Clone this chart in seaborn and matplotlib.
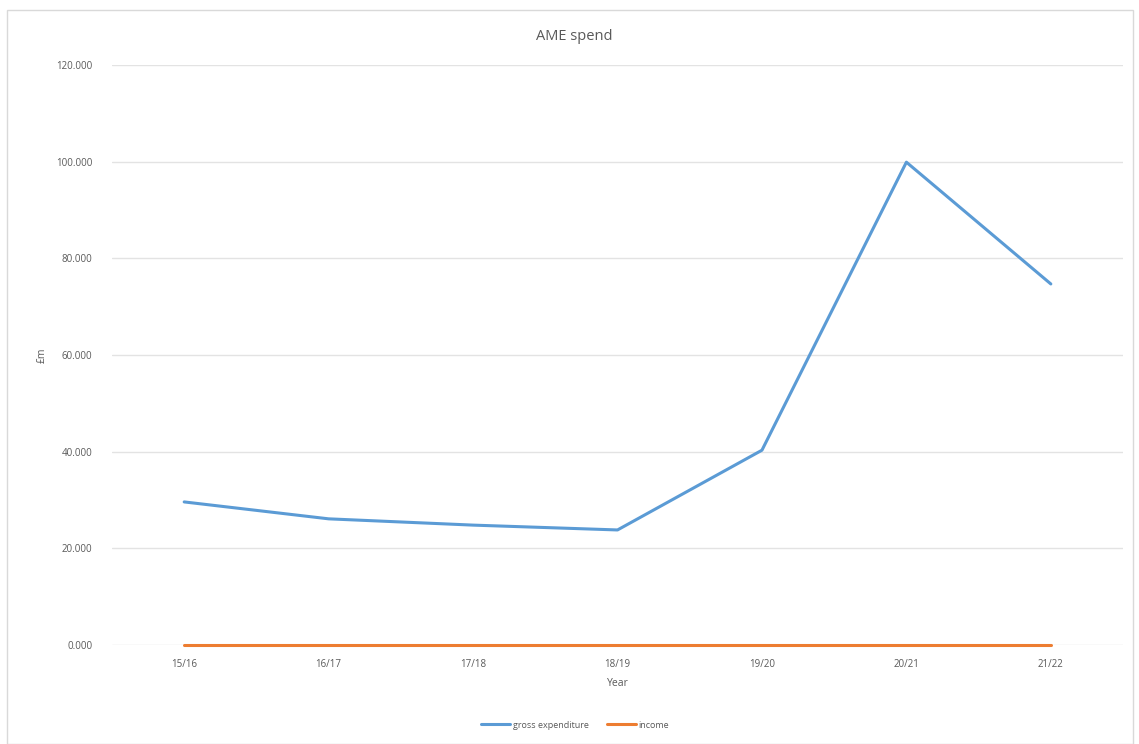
import matplotlib
matplotlib.use("Agg")
import matplotlib.pyplot as plt
import seaborn as sns
import pandas as pd
from matplotlib.ticker import FuncFormatter
from matplotlib.patches import Rectangle
from matplotlib.lines import Line2D

years = ["15/16", "16/17", "17/18", "18/19", "19/20", "20/21", "21/22"]
gross_expenditure = [29.6, 26.1, 24.8, 23.8, 40.3, 99.9, 74.7]
income = [0.0, 0.0, 0.0, 0.0, 0.0, 0.0, 0.0]
series_names = ["gross expenditure", "income"]
colors = ["#5B9BD5", "#ED7D31"]

df = pd.DataFrame({
    "Year": years * 2,
    "value": gross_expenditure + income,
    "series": [series_names[0]] * len(years) + [series_names[1]] * len(years),
})
df["x"] = list(range(len(years))) * 2

sns.set_theme(style="white")
plt.rcParams["font.family"] = ["Open Sans", "DejaVu Sans"]
txt = "#595959"

fig = plt.figure(figsize=(11.39, 7.44), dpi=100)
fig.patches.append(Rectangle((7 / 1139, 0), 1126 / 1139, 1 - 10 / 744,
                             transform=fig.transFigure, fill=False,
                             edgecolor="#D9D9D9", linewidth=1))
ax = fig.add_axes([0.0983, 0.1331, 0.8877, 0.7795])

sns.lineplot(data=df, x="x", y="value", hue="series", palette=colors,
             linewidth=2.2, ax=ax, legend=False, sort=False)
for ln in ax.lines:
    ln.set_clip_on(False)

ax.set_xlim(-0.5, len(years) - 0.5)
ax.set_ylim(0, 120)
ax.set_yticks([0, 20, 40, 60, 80, 100, 120])
ax.yaxis.set_major_formatter(FuncFormatter(lambda v, p: f"{v:.3f}"))
ax.set_xticks(range(len(years)))
ax.set_xticklabels(years)
ax.grid(axis="y", color="#E3E3E3", linewidth=1)
ax.set_axisbelow(True)
for s in ax.spines.values():
    s.set_visible(False)
ax.tick_params(axis="both", length=0, labelsize=7, colors=txt)
ax.tick_params(axis="x", pad=10)
ax.tick_params(axis="y", pad=14)
ax.set_xlabel("Year", fontsize=7.5, color=txt, labelpad=6)
ax.set_ylabel("£m", fontsize=7.5, color=txt, labelpad=6)
fig.text(0.504, 1 - 37 / 744, "AME spend", ha="center", va="center",
         fontsize=10.5, color=txt)

handles = [Line2D([], [], color=c, linewidth=2.2) for c in colors]
fig.legend(handles, series_names, loc="center", bbox_to_anchor=(0.505, 1 - 725 / 744),
           ncol=2, frameon=False, fontsize=6.5, labelcolor=txt,
           handlelength=3.2, handletextpad=0.3, columnspacing=2.0)

fig.savefig("out.png", dpi=100, facecolor="white")
